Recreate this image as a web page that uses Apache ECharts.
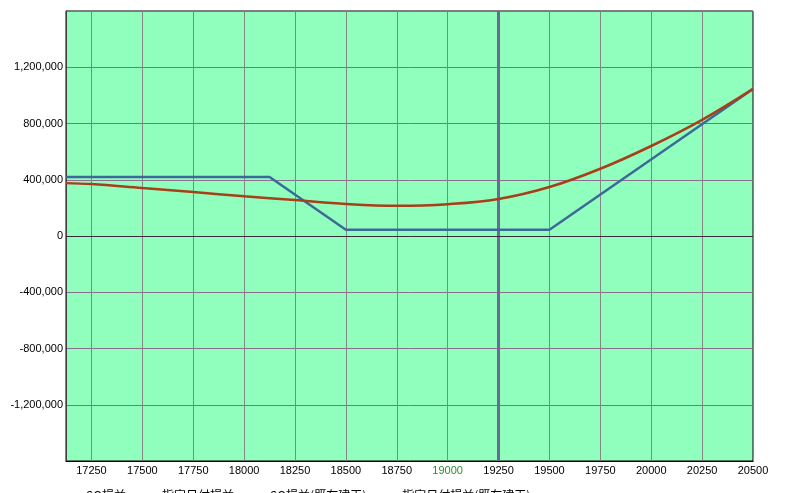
<!DOCTYPE html>
<html>
<head>
<meta charset="utf-8">
<script src="https://cdn.jsdelivr.net/npm/echarts@6/dist/echarts.min.js"></script>
<style>
html,body{margin:0;padding:0;background:#fff;}
#c{width:788px;height:493px;}
</style>
</head>
<body>
<div id="c"></div>
<script>
// ---- data ----
const seriesNames = ['SQ損益', '指定日付損益', 'SQ損益(既存建玉)', '指定日付損益(既存建玉)'];
const xTickLabels = [17250, 17500, 17750, 18000, 18250, 18500, 18750, 19000, 19250, 19500, 19750, 20000, 20250, 20500];
const highlightTick = 19000;
const currentPrice = 19250;
const xMin = 17125, xMax = 20500;
const yMin = -1600000, yMax = 1600000, yStep = 400000;

const sqX = [17125, 18125, 18500, 19500, 20500];
const sqY = [420000, 420000, 45000, 45000, 1045000];

const dateX = [17125, 17250, 17500, 17750, 18000, 18250, 18500, 18750, 19000, 19250, 19500, 19750, 20000, 20250, 20500];
const dateY = [376000, 369000, 341000, 313000, 282000, 256000, 228000, 215000, 226000, 263000, 348000, 478000, 640000, 826000, 1046000];

const existSqY = [];
const existDateY = [];

// ---- chart ----
const chart = echarts.init(document.getElementById('c'), null, {renderer: 'canvas'});
const pair = (xs, ys) => xs.map((x, i) => [x, ys[i]]);

const option = {
  animation: false,
  backgroundColor: '#ffffff',
  grid: {
    left: 66, right: 35, top: 11, bottom: 32,
    show: true, backgroundColor: '#90FFBE', borderColor: '#000000', borderWidth: 1
  },
  xAxis: {
    type: 'value', min: xMin, max: xMax,
    axisLine: {show: true, onZero: false, lineStyle: {color: '#000', width: 1}},
    axisTick: {show: false, customValues: xTickLabels},
    axisLabel: {
      customValues: xTickLabels,
      margin: 4,
      fontSize: 11,
      fontFamily: '"Liberation Sans Narrow", "Liberation Sans", Arial, sans-serif',
      color: '#000',
      formatter: v => (v === highlightTick ? '{g|' + v + '}' : String(v)),
      rich: {g: {color: '#2E8B2E', fontSize: 11, fontFamily: '"Liberation Sans Narrow", "Liberation Sans", Arial, sans-serif'}}
    },
    splitLine: {show: true, lineStyle: {color: '#858585', width: 1}}
  },
  yAxis: {
    type: 'value', min: yMin, max: yMax, interval: yStep,
    axisLine: {show: true, lineStyle: {color: '#404040', width: 1}},
    axisTick: {show: false},
    axisLabel: {
      showMinLabel: false, showMaxLabel: false,
      margin: 3, fontSize: 11,
      fontFamily: '"Liberation Sans", Arial, sans-serif',
      color: '#000',
      formatter: v => v.toLocaleString('en-US')
    },
    splitLine: {show: true, lineStyle: {color: '#8C6E8C', width: 1}}
  },
  legend: {
    data: seriesNames,
    left: 51, top: 484,
    icon: 'rect',
    itemWidth: 25, itemHeight: 2, itemGap: 6,
    textStyle: {fontSize: 12, color: '#000', fontFamily: '"Noto Sans CJK JP", sans-serif'}
  },
  series: [
    {
      name: seriesNames[0], type: 'line', data: pair(sqX, sqY),
      showSymbol: false, z: 4,
      lineStyle: {color: '#3C6A98', width: 2.5}, itemStyle: {color: '#3C6A98'},
      markLine: {
        silent: true, symbol: 'none', z: 3,
        label: {show: false},
        lineStyle: {color: '#6A6A98', width: 3, type: 'solid'},
        data: [{xAxis: currentPrice}]
      }
    },
    {
      name: seriesNames[1], type: 'line', data: pair(dateX, dateY),
      showSymbol: false, smooth: 0.4, z: 5,
      lineStyle: {color: '#A83E1A', width: 2.5}, itemStyle: {color: '#A83E1A'}
    },
    {
      name: seriesNames[2], type: 'line', data: existSqY,
      showSymbol: false, lineStyle: {color: '#2F7F2F'}, itemStyle: {color: '#2F7F2F'}
    },
    {
      name: seriesNames[3], type: 'line', data: existDateY,
      showSymbol: false, lineStyle: {color: '#C08000'}, itemStyle: {color: '#C08000'}
    },
    {
      type: 'line', data: [], silent: true, z: 1,
      markLine: {
        silent: true, symbol: 'none',
        label: {show: false},
        lineStyle: {color: '#3A2A3A', width: 1, type: 'solid'},
        data: [{yAxis: 0}]
      }
    }
  ]
};
chart.setOption(option);
</script>
</body>
</html>
